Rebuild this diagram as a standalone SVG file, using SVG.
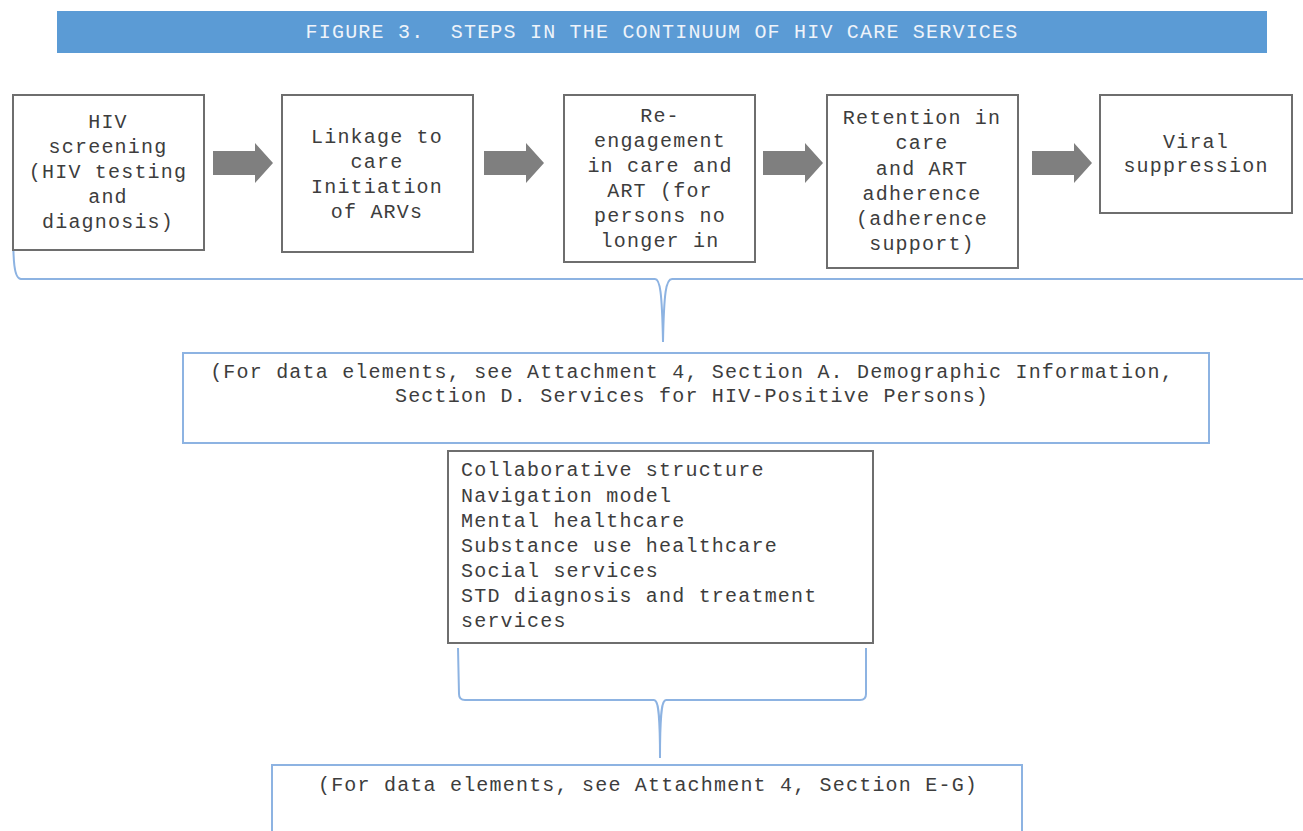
<svg xmlns="http://www.w3.org/2000/svg" width="1303" height="831" viewBox="0 0 1303 831">
<style>
.t{font-family:"Liberation Mono","Courier New",monospace;font-size:20px;letter-spacing:1.2px;fill:#3d3d3d}
.c{text-anchor:middle}
.box{fill:#fff;stroke:#6e6e6e;stroke-width:2}
.bbox{fill:#fff;stroke:#8db3e2;stroke-width:2}
.brace{fill:none;stroke:#8db3e2;stroke-width:2}
.arr{fill:#7f7f7f}
</style>
<defs>
<path id="arrow" d="M0,-12 L42,-12 L42,-20 L60,0 L42,20 L42,12 L0,12 Z"/>
</defs>
<rect width="1303" height="831" fill="#fff"/>
<g id="title">
<rect x="57" y="11" width="1210" height="42" fill="#5b9bd5"/>
<text class="t c" x="662" y="38" xml:space="preserve" style="fill:#eef3fa;white-space:pre">FIGURE 3.  STEPS IN THE CONTINUUM OF HIV CARE SERVICES</text>
</g>
<g id="connectors">
<use href="#arrow" class="arr" x="213" y="163"/>
<use href="#arrow" class="arr" x="484" y="163"/>
<use href="#arrow" class="arr" x="763" y="163"/>
<use href="#arrow" class="arr" x="1032" y="163"/>
<path class="brace" d="M13,222 C13,262 14,279 21,279 L655,279 C660,279 662,292 663,342 C664,292 666,279 672,279 L1303,279"/>
<path class="brace" d="M458,648 L459,694 Q459,700 465,700 L654,700 C658,700 660,710 660,758 C660,710 662,700 666,700 L860,700 Q866,700 866,694 L866,648"/>
</g>
<g id="n1">
<rect class="box" x="13" y="95" width="191" height="155"/>
<text class="t c" x="108"><tspan x="108" y="128">HIV</tspan><tspan x="108" y="153">screening</tspan><tspan x="108" y="178">(HIV testing</tspan><tspan x="108" y="203">and</tspan><tspan x="108" y="228">diagnosis)</tspan></text>
</g>
<g id="n2">
<rect class="box" x="282" y="95" width="191" height="157"/>
<text class="t c" x="377"><tspan x="377" y="143">Linkage to</tspan><tspan x="377" y="168">care</tspan><tspan x="377" y="193">Initiation</tspan><tspan x="377" y="218">of ARVs</tspan></text>
</g>
<g id="n3">
<rect class="box" x="564" y="95" width="191" height="167"/>
<text class="t c" x="660"><tspan x="660" y="122">Re-</tspan><tspan x="660" y="147">engagement</tspan><tspan x="660" y="172">in care and</tspan><tspan x="660" y="197">ART (for</tspan><tspan x="660" y="222">persons no</tspan><tspan x="660" y="247">longer in</tspan></text>
</g>
<g id="n4">
<rect class="box" x="827" y="95" width="191" height="173"/>
<text class="t c" x="922"><tspan x="922" y="124">Retention in</tspan><tspan x="922" y="149">care</tspan><tspan x="922" y="175">and ART</tspan><tspan x="922" y="200">adherence</tspan><tspan x="922" y="225">(adherence</tspan><tspan x="922" y="250">support)</tspan></text>
</g>
<g id="n5">
<rect class="box" x="1100" y="95" width="192" height="118"/>
<text class="t c" x="1196"><tspan x="1196" y="148">Viral</tspan><tspan x="1196" y="172">suppression</tspan></text>
</g>
<g id="n6">
<rect class="bbox" x="183" y="353" width="1026" height="90"/>
<text class="t c" x="692"><tspan x="692" y="378">(For data elements, see Attachment 4, Section A. Demographic Information,</tspan><tspan x="692" y="402">Section D. Services for HIV-Positive Persons)</tspan></text>
</g>
<g id="n7">
<rect class="box" x="448" y="451" width="425" height="192"/>
<text class="t" x="461"><tspan x="461" y="476">Collaborative structure</tspan><tspan x="461" y="502">Navigation model</tspan><tspan x="461" y="527">Mental healthcare</tspan><tspan x="461" y="552">Substance use healthcare</tspan><tspan x="461" y="577">Social services</tspan><tspan x="461" y="602">STD diagnosis and treatment</tspan><tspan x="461" y="627">services</tspan></text>
</g>
<g id="n8">
<rect class="bbox" x="272" y="765" width="750" height="80"/>
<text class="t c" x="648" y="791">(For data elements, see Attachment 4, Section E-G)</text>
</g>
</svg>
